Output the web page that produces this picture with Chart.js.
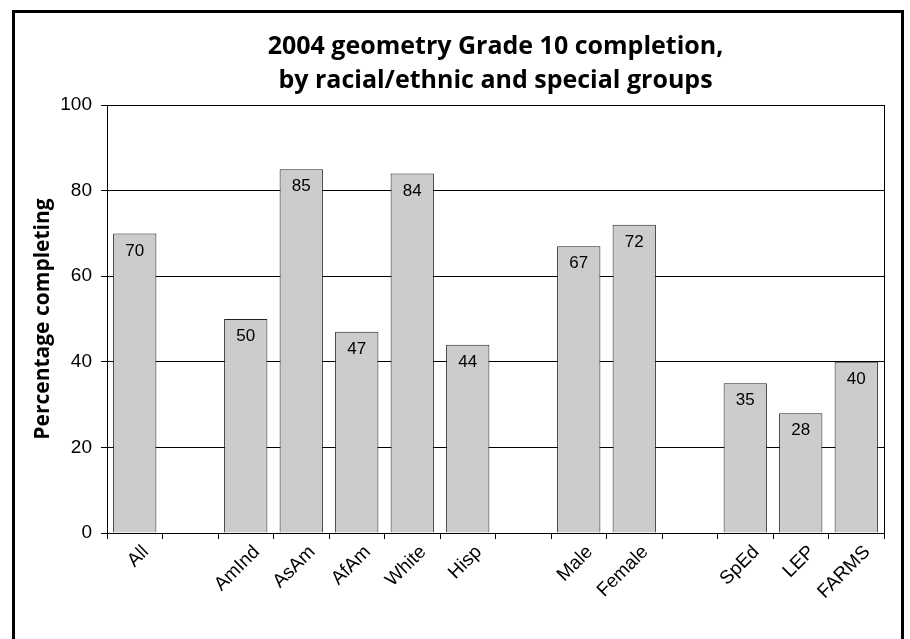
<!DOCTYPE html>
<html>
<head>
<meta charset="utf-8">
<script src="https://cdn.jsdelivr.net/npm/chart.js@4/dist/chart.umd.min.js"></script>
<style>
  html, body { margin: 0; padding: 0; background: #fff; overflow: hidden; }
  #wrap { position: relative; width: 910px; height: 639px; }
</style>
</head>
<body>
<div id="wrap"><canvas id="c" width="910" height="639"></canvas></div>
<script>
// Groups along the x axis; empty strings leave a blank slot between clusters.
const groups = ['All', '', 'AmInd', 'AsAm', 'AfAm', 'White', 'Hisp', '', 'Male', 'Female', '', 'SpEd', 'LEP', 'FARMS'];
// Percentage of students completing geometry by grade 10.
const completing = [70, null, 50, 85, 47, 84, 44, null, 67, 72, null, 35, 28, 40];
// Value axis ticks.
const yTicks = [0, 20, 40, 60, 80, 100];
const titleLines = ['2004 geometry Grade 10 completion,', 'by racial/ethnic and special groups'];
const yTitle = 'Percentage completing';

const headFont = '"Open Sans", "DejaVu Sans", sans-serif';
const bodyFont = '"Liberation Sans", Arial, sans-serif';

// Page frame, right edge of the plot box, titles and value labels.
const decorations = {
  id: 'decorations',
  afterDraw(chart) {
    const ctx = chart.ctx;
    const a = chart.chartArea;
    ctx.save();

    // outer frame
    ctx.strokeStyle = '#000';
    ctx.lineWidth = 3;
    ctx.strokeRect(13.5, 11.5, 889, 700);

    // right edge of the plot box
    ctx.lineWidth = 1;
    ctx.beginPath();
    ctx.moveTo(Math.round(a.right) + 0.5, a.top);
    ctx.lineTo(Math.round(a.right) + 0.5, a.bottom);
    ctx.stroke();

    // chart title
    ctx.fillStyle = '#000';
    ctx.font = 'bold 25px ' + headFont;
    ctx.textAlign = 'center';
    ctx.textBaseline = 'alphabetic';
    const cx = (a.left + a.right) / 2;
    ctx.fillText(titleLines[0], cx, 54);
    ctx.fillText(titleLines[1], cx, 88);

    // y axis title
    ctx.save();
    ctx.translate(43, (a.top + a.bottom) / 2);
    ctx.rotate(-Math.PI / 2);
    ctx.font = 'bold 21px ' + headFont;
    ctx.textBaseline = 'middle';
    ctx.fillText(yTitle, 0, 0);
    ctx.restore();

    // value labels inside the top of each bar
    ctx.font = '17px ' + bodyFont;
    ctx.textAlign = 'center';
    ctx.textBaseline = 'top';
    const meta = chart.getDatasetMeta(0);
    meta.data.forEach((bar, i) => {
      const v = completing[i];
      if (v === null) return;
      ctx.fillText(String(v), bar.x, bar.y + 9);
    });
    ctx.restore();
  }
};

new Chart(document.getElementById('c'), {
  type: 'bar',
  data: {
    labels: groups,
    datasets: [{
      data: completing,
      backgroundColor: '#cccccc',
      borderColor: '#222',
      borderWidth: 1,
      categoryPercentage: 1,
      barPercentage: 0.78
    }]
  },
  options: {
    responsive: false,
    animation: false,
    devicePixelRatio: 1,
    layout: { padding: { left: 0, right: 26, top: 105, bottom: 0 } },
    plugins: {
      legend: { display: false },
      tooltip: { enabled: false },
      title: { display: false }
    },
    scales: {
      x: {
        type: 'category',
        grid: {
          offset: true,
          drawOnChartArea: false,
          drawTicks: true,
          tickLength: 6,
          color: '#000',
          lineWidth: 1
        },
        border: { display: true, color: '#000', width: 1 },
        ticks: {
          autoSkip: false,
          maxRotation: 45,
          minRotation: 45,
          padding: 2,
          labelOffset: 11,
          color: '#000',
          font: { family: bodyFont, size: 19 }
        },
        afterFit(scale) { scale.height = 106; }
      },
      y: {
        min: 0,
        max: 100,
        afterBuildTicks(scale) { scale.ticks = yTicks.map(v => ({ value: v })); },
        grid: {
          color: '#000',
          lineWidth: 1,
          drawTicks: true,
          tickLength: 6
        },
        border: { display: true, color: '#000', width: 1 },
        ticks: {
          padding: 9,
          color: '#000',
          font: { family: bodyFont, size: 19 }
        },
        afterFit(scale) { scale.width = 107; }
      }
    }
  },
  plugins: [decorations]
});
</script>
</body>
</html>
